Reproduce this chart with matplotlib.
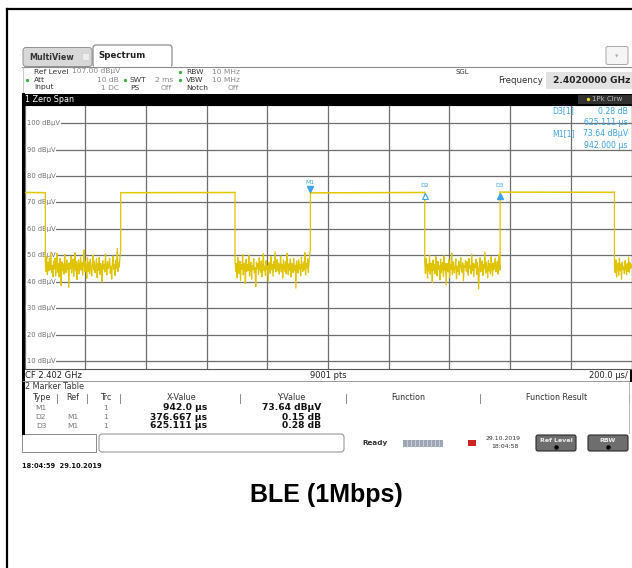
import matplotlib.pyplot as plt
from matplotlib.patches import Rectangle, FancyBboxPatch
from matplotlib.transforms import offset_copy
import numpy as np

plt.rcParams['font.family'] = 'DejaVu Sans'

# Zero span sweep: 2 ms, 7..107 dBuV
sweep_us = 2000.0
ref_level = 107.0
y_bottom = 7.0
level_ticks = [100, 90, 80, 70, 60, 50, 40, 30, 20, 10]

# BLE bursts (start/end time and level at each end)
burst_start_us = [0.0, 316.9, 942.0, 1567.111]
burst_end_us = [68.5, 693.6, 1318.667, 1943.8]
burst_level_start = [73.80, 73.70, 73.64, 73.92]
burst_level_end = [73.72, 73.78, 73.79, 73.86]

# noise floor between bursts (dBuV)
noise_gap1 = [46.8, 43.9, 49.6, 42.7, 47.3, 44.1, 48.8, 44.6, 51.2, 43.5, 46.1, 42.0, 47.7, 44.9, 49.0, 42.3, 45.8, 50.7, 43.6, 47.0,
              41.8, 48.9, 45.4, 38.6, 47.5, 44.2, 46.7, 42.9, 50.3, 45.6, 43.5, 48.2, 44.7, 46.9, 37.9, 47.1, 45.0, 49.7, 43.3, 46.3,
              48.6, 42.0, 45.5, 51.0, 44.1, 47.6, 40.8, 46.2, 48.3, 43.0, 45.9, 49.4, 44.4, 47.2, 42.5, 46.5, 52.1, 43.8, 47.9, 45.1,
              41.3, 49.2, 44.0, 47.4, 43.1, 48.5, 45.7, 42.2, 46.6, 50.1, 44.5, 47.8, 43.4, 45.2, 48.7, 41.6, 46.9, 44.3, 49.3, 42.8,
              47.0, 45.5, 39.9, 48.0, 44.8, 46.4, 43.7, 50.5, 45.3, 42.6, 47.6, 44.9, 46.1, 48.9, 43.2, 45.8, 41.0, 47.3, 49.8, 44.6,
              46.7, 42.4, 48.1, 45.0, 52.6, 43.9, 47.2, 45.6, 49.5, 51.8]
noise_gap2 = [48.1, 44.0, 46.9, 41.6, 49.3, 45.2, 43.1, 47.8, 40.5, 46.4, 44.8, 50.2, 42.6, 47.0, 45.7, 39.4, 48.5, 43.9, 46.6, 44.3,
              49.9, 42.2, 45.9, 47.4, 41.0, 46.1, 44.6, 48.8, 43.4, 45.3, 38.2, 47.5, 44.9, 46.8, 42.8, 49.1, 45.0, 43.6, 47.9, 41.9,
              46.3, 50.6, 44.2, 45.8, 42.4, 48.0, 44.7, 46.0, 40.2, 47.3, 45.4, 43.2, 49.5, 44.5, 46.7, 42.1, 47.6, 45.1, 51.4, 43.7,
              46.2, 48.4, 44.1, 47.0, 42.9, 45.6, 49.7, 43.8, 46.5, 41.4, 48.2, 45.3, 44.0, 47.7, 43.0, 50.8, 45.9, 42.7, 46.8, 44.4,
              48.6, 41.8, 47.1, 45.5, 43.5, 49.0, 44.2, 46.3, 37.6, 47.9, 45.0, 43.3, 48.3, 44.8, 46.6, 42.3, 49.4, 45.7, 43.9, 47.4,
              44.5, 51.0, 42.6, 46.9, 45.2, 48.7, 43.6, 47.5, 50.3, 52.4]
noise_gap3 = [47.4, 43.2, 48.9, 45.6, 41.4, 46.8, 44.1, 50.0, 42.9, 47.1, 45.3, 39.8, 48.2, 44.4, 46.5, 43.0, 49.6, 45.9, 42.3, 47.7,
              44.8, 46.0, 40.7, 48.6, 43.5, 45.7, 47.3, 42.0, 49.8, 44.3, 46.9, 38.8, 47.0, 45.2, 43.8, 48.4, 41.7, 46.4, 44.6, 50.9,
              42.7, 47.5, 45.0, 43.3, 46.6, 48.7, 41.1, 45.8, 44.0, 47.8, 42.6, 46.3, 49.2, 44.9, 43.6, 47.2, 40.4, 46.1, 45.5, 48.1,
              43.9, 47.6, 44.7, 42.5, 48.8, 45.1, 46.2, 43.1, 50.4, 44.2, 47.0, 41.9, 46.7, 45.4, 48.5, 42.8, 47.3, 44.5, 37.3, 46.0,
              49.1, 43.7, 45.9, 47.9, 42.4, 46.4, 44.9, 51.3, 43.4, 47.4, 45.2, 41.5, 48.0, 44.1, 46.8, 43.0, 49.5, 45.7, 42.2, 47.1,
              44.6, 46.5, 48.9, 43.8, 45.0, 47.7, 42.9, 50.2, 46.3, 44.4]
noise_tail = [46.2, 43.4, 48.3, 41.8, 45.9, 47.1, 42.5, 49.0, 44.2, 46.7, 40.9, 47.5, 44.8, 45.6, 43.1, 48.0, 45.3, 42.7, 46.9, 44.0,
              49.4, 43.6, 47.2, 45.1, 46.4]
noise_gaps = [noise_gap1, noise_gap2, noise_gap3, noise_tail]

# marker table
marker_names = ['M1', 'D2', 'D3']
marker_refs = ['', 'M1', 'M1']
marker_x_us = [942.0, 376.667, 625.111]
marker_y = [73.64, 0.15, 0.28]

W, H = 632, 568
TRACE = '#e3c800'
BLUE = '#3ba3e6'

fig = plt.figure(figsize=(W / 100, H / 100), dpi=100, facecolor='white')
ui = fig.add_axes([0, 0, 1, 1])
ui.set_xlim(0, W)
ui.set_ylim(H, 0)
ui.axis('off')


def txt(x, y, s, size=5.4, color='#333333', ha='left', weight='normal', **kw):
    ui.text(x, y, s, fontsize=size, color=color, ha=ha, va='center',
            fontweight=weight, **kw)


# page frame
ui.plot([7, 7], [9, H], color='black', lw=1.6)
ui.plot([7, W], [9, 9], color='black', lw=1.6)

# tabs
ui.plot([22, W], [66.5, 66.5], color='#8c8c8c', lw=0.8)
ui.add_patch(FancyBboxPatch((23, 47.5), 69, 19, boxstyle='round,pad=0,rounding_size=3',
                            fc='#d8d8d8', ec='#909090', lw=0.7))
txt(29, 57, 'MultiView', size=5.8, weight='bold', color='#333333')
ui.add_patch(Rectangle((82, 53), 7, 7, fc='#eeeeee', ec='#c8c8c8', lw=0.4))
ui.add_patch(FancyBboxPatch((93, 45), 79, 22, boxstyle='round,pad=0,rounding_size=3',
                            fc='white', ec='#808080', lw=0.8))
ui.add_patch(Rectangle((93.8, 65), 77.4, 3, fc='white', ec='none'))
txt(98, 56, 'Spectrum', size=6.2, weight='bold', color='#222222')
ui.add_patch(FancyBboxPatch((606, 46.5), 22, 18, boxstyle='round,pad=0,rounding_size=2',
                            fc='#f5f5f5', ec='#a8a8a8', lw=0.7))
txt(617, 56, '\u25bc', size=3.2, color='#aaaaaa', ha='center')

# setting panel
ui.plot([23, 23], [67, 94], color='#c0c0c0', lw=0.6)
txt(34, 71.5, 'Ref Level', color='#333333')
txt(72, 71.5, '107.00 dB\u00b5V', color='#888888')
txt(34, 79.5, 'Att', color='#333333')
txt(119, 79.5, '10 dB', color='#888888', ha='right')
txt(34, 87.5, 'Input', color='#333333')
txt(119, 87.5, '1 DC', color='#888888', ha='right')
txt(130, 79.5, 'SWT', color='#333333')
txt(155, 79.5, '2 ms', color='#888888')
txt(130, 87.5, 'PS', color='#333333')
txt(172, 87.5, 'Off', color='#888888', ha='right')
txt(186, 71.5, 'RBW', color='#333333')
txt(212, 71.5, '10 MHz', color='#888888')
txt(186, 79.5, 'VBW', color='#333333')
txt(212, 79.5, '10 MHz', color='#888888')
txt(186, 87.5, 'Notch', color='#333333')
txt(239, 87.5, 'Off', color='#888888', ha='right')
for dx, dy in [(27, 79.5), (125, 79.5), (180, 71.5), (180, 79.5)]:
    ui.plot(dx, dy, 'o', ms=2.4, color='#3cb043', mec='none')
txt(455, 71.5, 'SGL', size=5.0, color='#333333')
txt(543, 80.5, 'Frequency', size=6.2, color='#333333', ha='right')
ui.add_patch(Rectangle((546, 72), 86, 17, fc='#e2e2e2', ec='none'))
txt(630, 80.8, '2.4020000 GHz', size=6.6, weight='bold', color='#222222', ha='right')

# window title bar
ui.add_patch(Rectangle((22, 94), W - 22, 10.5, fc='black', ec='none'))
ui.add_patch(Rectangle((578, 94.5), W - 578, 9.5, fc='#303030', ec='none'))
txt(25, 99.3, '1 Zero Span', size=5.8, color='white')
ui.plot(588, 99.3, 'o', ms=2.4, color='#ffd800', mec='none')
txt(592, 99.3, '1Pk Clrw', size=5.0, color='#bbbbbb')

# screen border on the left
ui.plot([23, 23], [94, 433], color='black', lw=2.2)

# line under the trace window
ui.plot([23, W], [380.5, 380.5], color='#9a9a9a', lw=0.7)
txt(25, 375, 'CF 2.402 GHz', size=6.0, color='#222222')
txt(328, 375, '9001 pts', size=6.0, color='#222222', ha='center')
txt(628, 375, '200.0 \u00b5s/', size=6.0, color='#222222', ha='right')
ui.plot([631, 631], [330, 381], color='black', lw=1.4)

# marker table
txt(25, 386.5, '2 Marker Table', size=5.8, color='#333333')
headers = [(41, 'Type'), (73, 'Ref'), (106, 'Trc'), (182, 'X-Value'),
           (291, 'Y-Value'), (408, 'Function'), (557, 'Function Result')]
for hx, hs in headers:
    txt(hx, 398, hs, size=5.8, color='#333333', ha='center')
for sx in [57, 87, 120, 240, 346, 480, 629]:
    ui.plot([sx, sx], [393.5, 403], color='#777777', lw=0.6)
ui.plot([629, 629], [382, 433], color='#b0b0b0', lw=0.6)

row_y = [408, 417, 426]
for i, name in enumerate(marker_names):
    y = row_y[i]
    txt(41, y, name, size=5.4, color='#777777', ha='center')
    txt(73, y, marker_refs[i], size=5.4, color='#777777', ha='center')
    txt(106, y, '1', size=5.4, color='#777777', ha='center')
    if i == 0:
        xs = f'{marker_x_us[i]:.1f} \u00b5s'
        ys = f'{marker_y[i]:.2f} dB\u00b5V'
    else:
        xs = f'{marker_x_us[i]:.3f} \u00b5s'
        ys = f'{marker_y[i]:.2f} dB'
    txt(207, y, xs, size=6.6, weight='bold', color='#111111', ha='right')
    txt(321, y, ys, size=6.6, weight='bold', color='#111111', ha='right')

# status bar
ui.add_patch(Rectangle((22, 434), 74, 18, fc='white', ec='#8a8a8a', lw=0.7))
ui.add_patch(FancyBboxPatch((99, 434), 245, 18, boxstyle='round,pad=0,rounding_size=3',
                            fc='white', ec='#8a8a8a', lw=0.7))
txt(362, 443, 'Ready', size=5.2, weight='bold', color='#333333')
ui.add_patch(Rectangle((403, 439.5), 40, 7.5, fc='#9fa6b4', ec='none'))
for px in np.arange(407, 443, 4):
    ui.plot([px, px], [439.5, 447], color='#d8dce4', lw=0.5)
ui.add_patch(Rectangle((468, 440), 8, 6, fc='#cc2222', ec='none'))
txt(503, 439, '29.10.2019', size=4.4, color='#333333', ha='center')
txt(505, 447, '18:04:58', size=4.4, color='#333333', ha='center')
for bx, label in [(536, 'Ref Level'), (588, 'RBW')]:
    ui.add_patch(FancyBboxPatch((bx, 435), 40, 16, boxstyle='round,pad=0,rounding_size=2',
                                fc='#6e6e6e', ec='#2a2a2a', lw=0.8))
    txt(bx + 20, 440, label, size=4.5, weight='bold', color='#f0f0f0', ha='center')
    ui.plot(bx + 20, 447, 'o', ms=2.2, color='black')

txt(22, 466, '18:04:59  29.10.2019', size=4.8, weight='bold', color='#111111')
ui.text(326, 495, 'BLE (1Mbps)', fontsize=18, fontweight='bold', ha='center',
        va='center', color='black', family='Liberation Sans')

# trace window
ax = fig.add_axes([24.5 / W, 1 - 369 / H, 607 / W, (369 - 104.7) / H])
ax.set_facecolor('white')
ax.set_xlim(0, sweep_us)
ax.set_ylim(y_bottom, ref_level)
ax.set_xticks(np.arange(0, sweep_us + 1, 200))
ax.set_yticks(level_ticks)
ax.tick_params(length=0, labelbottom=False, labelleft=False)
ax.set_axisbelow(True)
ax.grid(True, color='#6e6e6e', lw=0.9)
for side in ['top', 'right']:
    ax.spines[side].set_color('black')
ax.spines['left'].set_visible(False)
ax.spines['bottom'].set_color('#555555')
ax.spines['bottom'].set_linewidth(0.8)

for lvl in level_ticks:
    ax.text(8, lvl, f'{lvl} dB\u00b5V', fontsize=4.9, color='#707070', va='center',
            ha='left', zorder=1.5,
            bbox=dict(fc='white', ec='none', pad=0.6))

# plateaus of the bursts
for i in range(len(burst_start_us)):
    ax.plot([burst_start_us[i], burst_end_us[i]],
            [burst_level_start[i], burst_level_end[i]],
            color=TRACE, lw=1.1, zorder=3)

# noise floor after each burst, joined to the burst edges
for i, gap in enumerate(noise_gaps):
    gap_end = burst_start_us[i + 1] if i + 1 < len(burst_start_us) else sweep_us
    t_gap = np.linspace(burst_end_us[i], gap_end, len(gap))
    t_seg = [burst_end_us[i]] + list(t_gap)
    v_seg = [burst_level_end[i]] + list(gap)
    if i + 1 < len(burst_start_us):
        t_seg.append(gap_end)
        v_seg.append(burst_level_start[i + 1])
    ax.plot(t_seg, v_seg, color='#e0c400', lw=0.9, zorder=3)

# markers on the trace
m1_t = marker_x_us[0]
m1_v = marker_y[0]
mk_t = [m1_t, m1_t + marker_x_us[1], m1_t + marker_x_us[2]]
mk_v = [m1_v, m1_v + marker_y[1], m1_v + marker_y[2]]
up = offset_copy(ax.transData, fig=fig, x=0, y=3.5, units='dots')
down = offset_copy(ax.transData, fig=fig, x=0, y=-3.5, units='dots')
ax.plot(mk_t[0], mk_v[0], 'v', ms=4.5, color=BLUE, transform=up, zorder=4)
ax.plot(mk_t[1], mk_v[1], '^', ms=4.5, mfc='white', mec=BLUE, mew=0.8,
        transform=down, zorder=4)
ax.plot(mk_t[2], mk_v[2], '^', ms=4.5, color=BLUE, transform=down, zorder=4)
for i, name in enumerate(marker_names):
    dy = 10 if i == 0 else 7
    lab = offset_copy(ax.transData, fig=fig, x=0, y=dy, units='dots')
    ax.text(mk_t[i], mk_v[i], name, fontsize=4.4, color=BLUE, ha='center',
            va='center', transform=lab, zorder=4)

# marker readout in the upper right corner
readout = [(111, 'D3[1]', f'{marker_y[2]:.2f} dB'),
           (122.5, '', f'{marker_x_us[2]:.3f} \u00b5s'),
           (134, 'M1[1]', f'{marker_y[0]:.2f} dB\u00b5V'),
           (146, '', f'{marker_x_us[0]:.3f} \u00b5s')]
for ry, left, right in readout:
    if left:
        ax.text(552, ry, left, fontsize=5.6, color=BLUE, va='center', ha='left',
                transform=ui.transData, zorder=5)
    ax.text(628, ry, right, fontsize=5.6, color=BLUE, va='center', ha='right',
            transform=ui.transData, zorder=5)

fig.savefig('out.png', dpi=100, facecolor='white')
